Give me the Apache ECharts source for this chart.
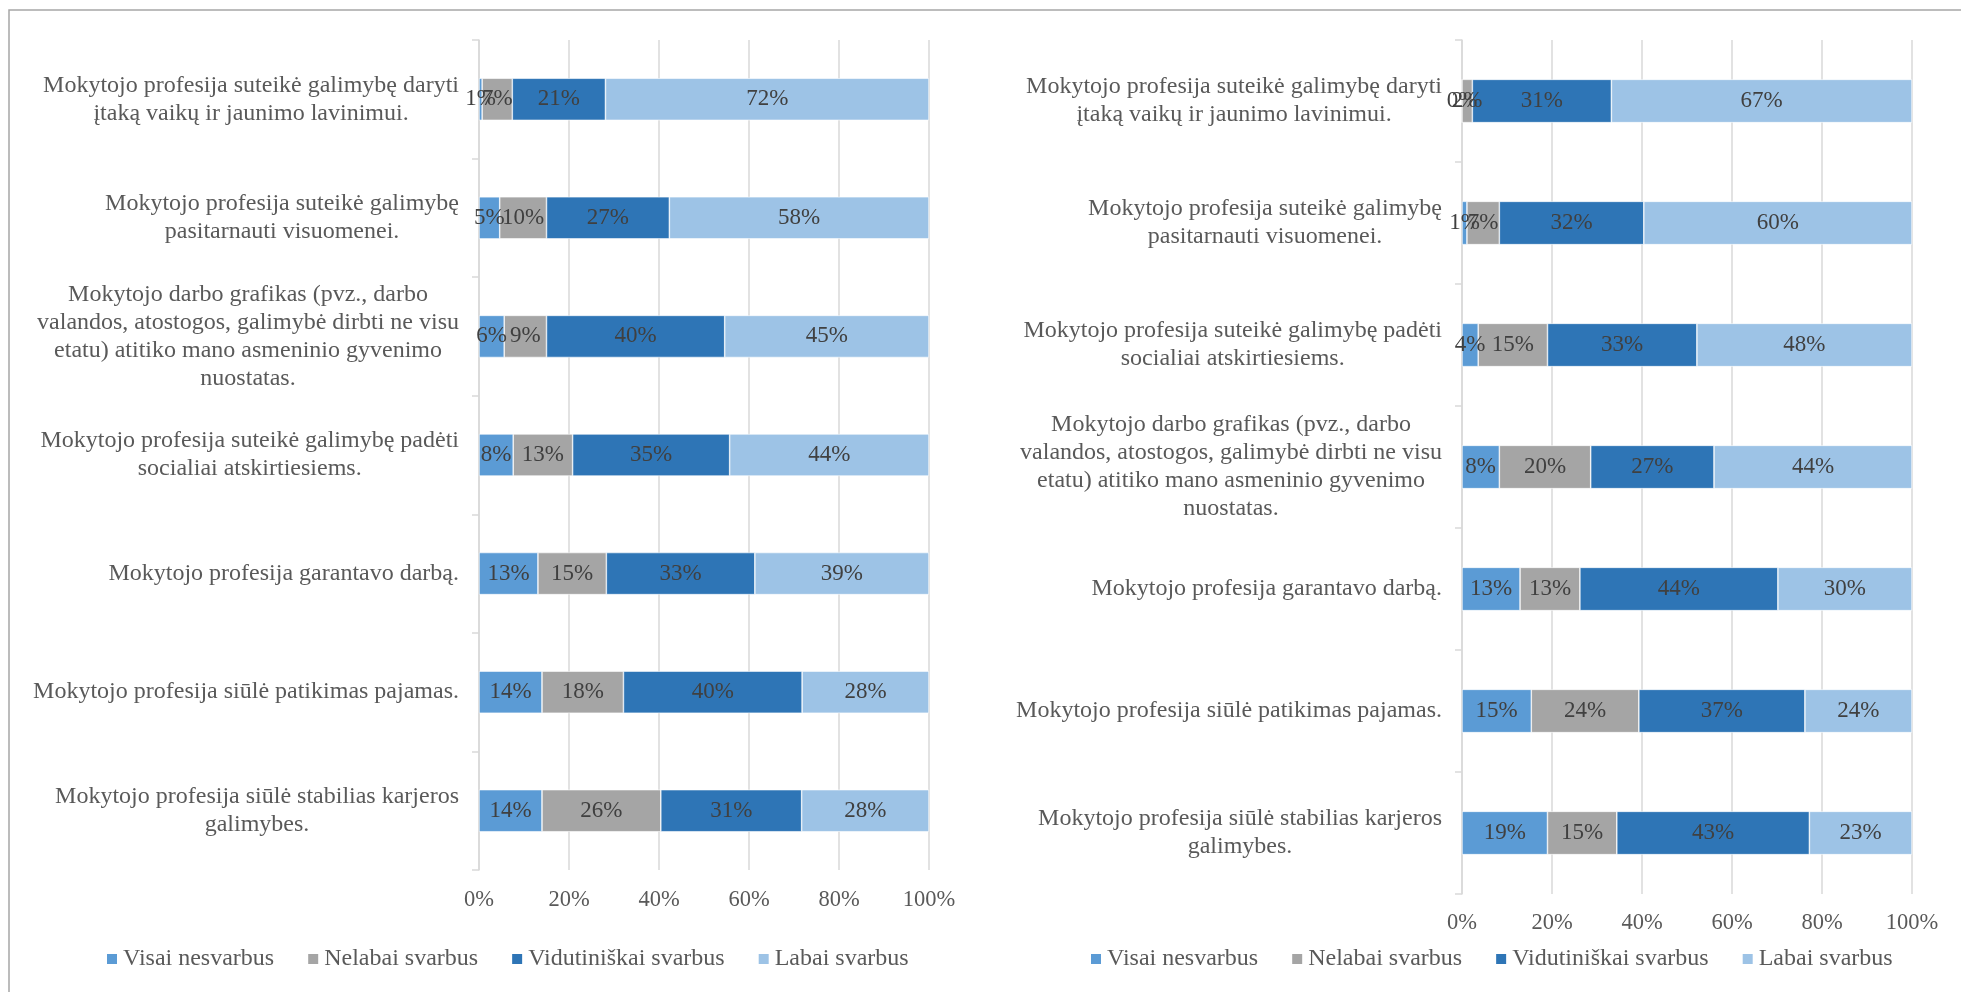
<!DOCTYPE html>
<html>
<head>
<meta charset="utf-8">
<script src="https://cdn.jsdelivr.net/npm/echarts@6/dist/echarts.min.js"></script>
<style>
html,body{margin:0;padding:0;background:#fff;}
#chart{width:1961px;height:992px;}
</style>
</head>
<body>
<div id="chart"></div>
<script>
var seriesNames = ['Visai nesvarbus', 'Nelabai svarbus', 'Vidutiniškai svarbus', 'Labai svarbus'];
var xTickLabels = ['0%', '20%', '40%', '60%', '80%', '100%'];

var categoriesLeft = [
  'Mokytojo profesija suteikė galimybę daryti\nįtaką vaikų ir jaunimo lavinimui.',
  'Mokytojo profesija suteikė galimybę\npasitarnauti visuomenei.',
  'Mokytojo darbo grafikas (pvz., darbo\nvalandos, atostogos, galimybė dirbti ne visu\netatu) atitiko mano asmeninio gyvenimo\nnuostatas.',
  'Mokytojo profesija suteikė galimybę padėti\nsocialiai atskirtiesiems.',
  'Mokytojo profesija garantavo darbą.',
  'Mokytojo profesija siūlė patikimas pajamas.',
  'Mokytojo profesija siūlė stabilias karjeros\ngalimybes.'
];
var leftVisai = [0.7, 4.6, 5.6, 7.6, 13.1, 14.0, 14.0];
var leftNelabai = [6.7, 10.4, 9.4, 13.2, 15.2, 18.1, 26.4];
var leftVidutiniskai = [20.7, 27.3, 39.6, 34.9, 33.0, 39.7, 31.3];
var leftLabai = [71.9, 57.7, 45.4, 44.3, 38.7, 28.2, 28.3];

var categoriesRight = [
  'Mokytojo profesija suteikė galimybę daryti\nįtaką vaikų ir jaunimo lavinimui.',
  'Mokytojo profesija suteikė galimybę\npasitarnauti visuomenei.',
  'Mokytojo profesija suteikė galimybę padėti\nsocialiai atskirtiesiems.',
  'Mokytojo darbo grafikas (pvz., darbo\nvalandos, atostogos, galimybė dirbti ne visu\netatu) atitiko mano asmeninio gyvenimo\nnuostatas.',
  'Mokytojo profesija garantavo darbą.',
  'Mokytojo profesija siūlė patikimas pajamas.',
  'Mokytojo profesija siūlė stabilias karjeros\ngalimybes.'
];
var rightVisai = [0, 1.1, 3.6, 8.3, 12.9, 15.4, 19.0];
var rightNelabai = [2.3, 7.2, 15.4, 20.3, 13.3, 23.9, 15.4];
var rightVidutiniskai = [30.9, 32.1, 33.2, 27.4, 44.0, 36.9, 42.8];
var rightLabai = [66.8, 59.6, 47.8, 44.0, 29.8, 23.8, 22.8];

var colors = ['#5B9BD5', '#A5A5A5', '#2E75B6', '#9DC3E6'];
var FONT = "'Liberation Serif', 'DejaVu Serif', serif";
var TEXT = '#595959';
var GRIDC = '#d9d9d9';

function catLabelFormatter(v) {
  return v.split('\n').map(function (l) { return '{c|' + l + '}'; }).join('\n');
}

function makeXAxis(gridIndex, margin) {
  return {
    type: 'value', gridIndex: gridIndex, min: 0, max: 100, interval: 20,
    axisLine: {show: false}, axisTick: {show: false},
    splitLine: {show: true, lineStyle: {color: GRIDC, width: 1.5}},
    axisLabel: {
      margin: margin, color: TEXT, fontFamily: FONT, fontSize: 22.5,
      formatter: function (v) { return xTickLabels[Math.round(v / 20)]; }
    }
  };
}
function makeYAxis(gridIndex, cats) {
  return {
    type: 'category', gridIndex: gridIndex, data: cats, inverse: true,
    axisLine: {show: true, lineStyle: {color: GRIDC, width: 1.5}},
    axisTick: {show: true, length: 7, lineStyle: {color: GRIDC, width: 1.5}},
    axisLabel: {
      margin: 20, formatter: catLabelFormatter,
      rich: {c: {align: 'center', fontFamily: FONT, fontSize: 24, lineHeight: 28, color: TEXT}}
    }
  };
}
var allData = [
  [leftVisai, leftNelabai, leftVidutiniskai, leftLabai],
  [rightVisai, rightNelabai, rightVidutiniskai, rightLabai]
];
var series = [];
[0, 1].forEach(function (g) {
  allData[g].forEach(function (arr, i) {
    series.push({
      name: seriesNames[i], type: 'bar', stack: 'S' + g,
      xAxisIndex: g, yAxisIndex: g, data: arr, barWidth: '35.5%',
      itemStyle: {color: colors[i], borderColor: '#ffffff', borderWidth: 0.6},
      label: {
        show: true, position: 'inside', color: '#404040', fontFamily: FONT, fontSize: 23,
        formatter: function (p) { return Math.round(p.value) + '%'; }
      },
      emphasis: {disabled: true}
    });
  });
});

function makeLegend(left) {
  return {
    data: seriesNames, left: left, top: 942, icon: 'rect', itemWidth: 12, itemHeight: 12,
    itemGap: 32, selectedMode: false,
    textStyle: {color: TEXT, fontFamily: FONT, fontSize: 24}
  };
}

var chart = echarts.init(document.getElementById('chart'), null, {renderer: 'canvas'});
chart.setOption({
  animation: false,
  backgroundColor: '#ffffff',
  grid: [
    {left: 479, right: 1032, top: 40, bottom: 122, containLabel: false},
    {left: 1462, right: 49, top: 40, bottom: 98, containLabel: false}
  ],
  xAxis: [makeXAxis(0, 19), makeXAxis(1, 18)],
  yAxis: [makeYAxis(0, categoriesLeft), makeYAxis(1, categoriesRight)],
  legend: [makeLegend(100), makeLegend(1084)],
  graphic: [{
    type: 'rect', z: -10, silent: true,
    shape: {x: 9, y: 10, width: 4000, height: 4000},
    style: {fill: 'none', stroke: '#a6a6a6', lineWidth: 1.5}
  }],
  series: series
});
</script>
</body>
</html>
